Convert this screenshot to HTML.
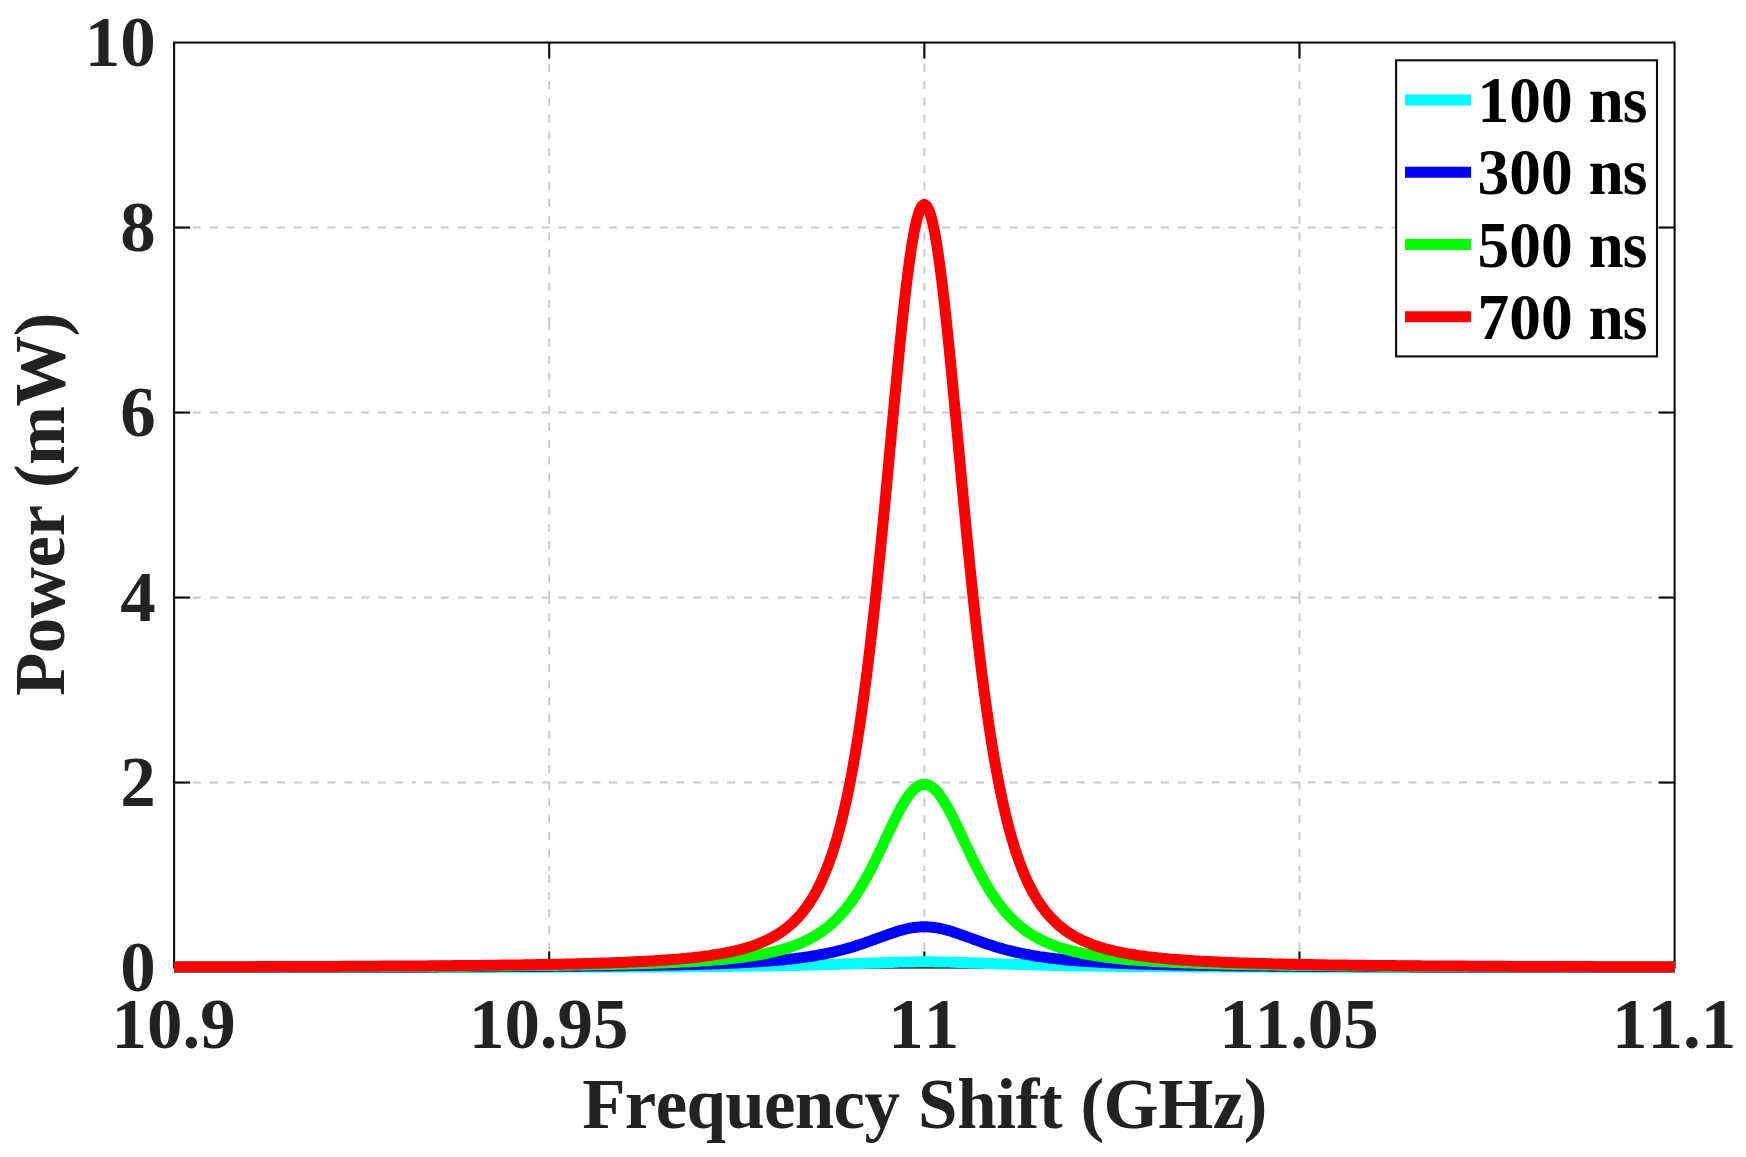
<!DOCTYPE html>
<html lang="en"><head><meta charset="utf-8"><title>Power vs Frequency Shift</title>
<style>
html,body{margin:0;padding:0;background:#fff;}
body{width:1746px;height:1157px;overflow:hidden;}
svg{display:block;}
text{font-family:"Liberation Serif",serif;font-weight:bold;font-kerning:none;}
.t{font-size:70.9px;fill:#222222;}
.lg{font-size:64.5px;fill:#000;}
</style></head><body>
<svg width="1746" height="1157" viewBox="0 0 1746 1157">
<rect width="1746" height="1157" fill="#fff"/>
<defs><clipPath id="c"><rect x="173.9" y="36.55" width="1501.1" height="937.0"/></clipPath></defs>

<g stroke="#c9c9c9" stroke-width="1.9" stroke-dasharray="8 8.83" fill="none">
<line x1="174.10" y1="782.55" x2="416.00" y2="782.55" stroke-dashoffset="-1.90"/>
<line x1="416.00" y1="782.55" x2="832.60" y2="782.55" stroke-dashoffset="-8.00"/>
<line x1="832.60" y1="782.55" x2="1249.30" y2="782.55" stroke-dashoffset="-8.60"/>
<line x1="1249.30" y1="782.55" x2="1674.60" y2="782.55" stroke-dashoffset="-7.70"/>
<line x1="174.10" y1="597.55" x2="416.00" y2="597.55" stroke-dashoffset="-1.90"/>
<line x1="416.00" y1="597.55" x2="832.60" y2="597.55" stroke-dashoffset="-8.00"/>
<line x1="832.60" y1="597.55" x2="1249.30" y2="597.55" stroke-dashoffset="-8.60"/>
<line x1="1249.30" y1="597.55" x2="1674.60" y2="597.55" stroke-dashoffset="-7.70"/>
<line x1="174.10" y1="412.55" x2="416.00" y2="412.55" stroke-dashoffset="-1.90"/>
<line x1="416.00" y1="412.55" x2="832.60" y2="412.55" stroke-dashoffset="-8.00"/>
<line x1="832.60" y1="412.55" x2="1249.30" y2="412.55" stroke-dashoffset="-8.60"/>
<line x1="1249.30" y1="412.55" x2="1674.60" y2="412.55" stroke-dashoffset="-7.70"/>
<line x1="174.10" y1="227.55" x2="416.00" y2="227.55" stroke-dashoffset="-1.90"/>
<line x1="416.00" y1="227.55" x2="832.60" y2="227.55" stroke-dashoffset="-8.00"/>
<line x1="832.60" y1="227.55" x2="1249.30" y2="227.55" stroke-dashoffset="-8.60"/>
<line x1="1249.30" y1="227.55" x2="1674.60" y2="227.55" stroke-dashoffset="-7.70"/>
<line x1="549.22" y1="42.55" x2="549.22" y2="324.80" stroke-dashoffset="-4.81"/>
<line x1="549.22" y1="329.70" x2="549.22" y2="599.40" stroke-dashoffset="-9.10"/>
<line x1="549.22" y1="604.00" x2="549.22" y2="870.90" stroke-dashoffset="-9.20"/>
<line x1="549.22" y1="870.90" x2="549.22" y2="967.55" stroke-dashoffset="-4.30"/>
<line x1="549.22" y1="324.8" x2="549.22" y2="329.7" stroke-dasharray="none"/>
<line x1="549.22" y1="599.4" x2="549.22" y2="604" stroke-dasharray="none"/>
<line x1="924.35" y1="42.55" x2="924.35" y2="324.80" stroke-dashoffset="-4.81"/>
<line x1="924.35" y1="329.70" x2="924.35" y2="599.40" stroke-dashoffset="-9.10"/>
<line x1="924.35" y1="604.00" x2="924.35" y2="870.90" stroke-dashoffset="-9.20"/>
<line x1="924.35" y1="870.90" x2="924.35" y2="967.55" stroke-dashoffset="-4.30"/>
<line x1="924.35" y1="324.8" x2="924.35" y2="329.7" stroke-dasharray="none"/>
<line x1="924.35" y1="599.4" x2="924.35" y2="604" stroke-dasharray="none"/>
<line x1="1299.48" y1="42.55" x2="1299.48" y2="324.80" stroke-dashoffset="-4.81"/>
<line x1="1299.48" y1="329.70" x2="1299.48" y2="599.40" stroke-dashoffset="-9.10"/>
<line x1="1299.48" y1="604.00" x2="1299.48" y2="870.90" stroke-dashoffset="-9.20"/>
<line x1="1299.48" y1="870.90" x2="1299.48" y2="967.55" stroke-dashoffset="-4.30"/>
<line x1="1299.48" y1="324.8" x2="1299.48" y2="329.7" stroke-dasharray="none"/>
<line x1="1299.48" y1="599.4" x2="1299.48" y2="604" stroke-dasharray="none"/>
</g>
<g stroke="#0c0c0c" stroke-width="2.1" fill="none">
<rect x="174.1" y="42.55" width="1500.5" height="925.0"/>
<line x1="549.22" y1="967.55" x2="549.22" y2="951.4499999999999"/>
<line x1="549.22" y1="42.55" x2="549.22" y2="58.65"/>
<line x1="924.35" y1="967.55" x2="924.35" y2="951.4499999999999"/>
<line x1="924.35" y1="42.55" x2="924.35" y2="58.65"/>
<line x1="1299.48" y1="967.55" x2="1299.48" y2="951.4499999999999"/>
<line x1="1299.48" y1="42.55" x2="1299.48" y2="58.65"/>
<line x1="174.1" y1="782.55" x2="190.2" y2="782.55"/>
<line x1="1674.6" y1="782.55" x2="1658.5" y2="782.55"/>
<line x1="174.1" y1="597.55" x2="190.2" y2="597.55"/>
<line x1="1674.6" y1="597.55" x2="1658.5" y2="597.55"/>
<line x1="174.1" y1="412.55" x2="190.2" y2="412.55"/>
<line x1="1674.6" y1="412.55" x2="1658.5" y2="412.55"/>
<line x1="174.1" y1="227.55" x2="190.2" y2="227.55"/>
<line x1="1674.6" y1="227.55" x2="1658.5" y2="227.55"/>
</g>
<g fill="none" stroke-width="11" stroke-linejoin="round" clip-path="url(#c)">
<polyline stroke="#00ffff" points="174.1,967.5 176.6,967.5 179.1,967.5 181.6,967.5 184.1,967.5 186.6,967.5 189.1,967.4 191.6,967.4 194.1,967.4 196.6,967.4 199.1,967.4 201.6,967.4 204.1,967.4 206.6,967.4 209.1,967.4 211.6,967.4 214.1,967.4 216.6,967.4 219.1,967.4 221.6,967.4 224.1,967.4 226.6,967.4 229.1,967.4 231.6,967.4 234.1,967.4 236.6,967.4 239.1,967.4 241.6,967.4 244.1,967.4 246.6,967.4 249.1,967.4 251.6,967.4 254.1,967.4 256.6,967.4 259.1,967.4 261.6,967.4 264.1,967.4 266.6,967.4 269.1,967.4 271.6,967.4 274.1,967.4 276.6,967.4 279.1,967.4 281.6,967.4 284.1,967.4 286.6,967.4 289.1,967.4 291.6,967.4 294.1,967.4 296.6,967.4 299.1,967.4 301.6,967.4 304.1,967.4 306.6,967.4 309.1,967.4 311.6,967.4 314.1,967.4 316.6,967.4 319.1,967.4 321.6,967.4 324.1,967.4 326.7,967.4 329.2,967.4 331.7,967.4 334.2,967.4 336.7,967.4 339.2,967.4 341.7,967.4 344.2,967.4 346.7,967.4 349.2,967.4 351.7,967.4 354.2,967.4 356.7,967.4 359.2,967.4 361.7,967.4 364.2,967.4 366.7,967.4 369.2,967.4 371.7,967.4 374.2,967.4 376.7,967.4 379.2,967.4 381.7,967.4 384.2,967.4 386.7,967.4 389.2,967.4 391.7,967.4 394.2,967.4 396.7,967.4 399.2,967.4 401.7,967.4 404.2,967.4 406.7,967.4 409.2,967.3 411.7,967.3 414.2,967.3 416.7,967.3 419.2,967.3 421.7,967.3 424.2,967.3 426.7,967.3 429.2,967.3 431.7,967.3 434.2,967.3 436.7,967.3 439.2,967.3 441.7,967.3 444.2,967.3 446.7,967.3 449.2,967.3 451.7,967.3 454.2,967.3 456.7,967.3 459.2,967.3 461.7,967.3 464.2,967.3 466.7,967.3 469.2,967.3 471.7,967.3 474.2,967.3 476.7,967.3 479.2,967.3 481.7,967.3 484.2,967.3 486.7,967.3 489.2,967.3 491.7,967.3 494.2,967.3 496.7,967.3 499.2,967.3 501.7,967.3 504.2,967.3 506.7,967.2 509.2,967.2 511.7,967.2 514.2,967.2 516.7,967.2 519.2,967.2 521.7,967.2 524.2,967.2 526.7,967.2 529.2,967.2 531.7,967.2 534.2,967.2 536.7,967.2 539.2,967.2 541.7,967.2 544.2,967.2 546.7,967.2 549.2,967.2 551.7,967.2 554.2,967.2 556.7,967.2 559.2,967.2 561.7,967.2 564.2,967.2 566.7,967.1 569.2,967.1 571.7,967.1 574.2,967.1 576.7,967.1 579.2,967.1 581.7,967.1 584.2,967.1 586.7,967.1 589.2,967.1 591.7,967.1 594.2,967.1 596.7,967.1 599.2,967.1 601.7,967.1 604.2,967.1 606.7,967.0 609.2,967.0 611.7,967.0 614.2,967.0 616.7,967.0 619.2,967.0 621.7,967.0 624.3,967.0 626.8,967.0 629.3,967.0 631.8,967.0 634.3,967.0 636.8,966.9 639.3,966.9 641.8,966.9 644.3,966.9 646.8,966.9 649.3,966.9 651.8,966.9 654.3,966.9 656.8,966.9 659.3,966.9 661.8,966.8 664.3,966.8 666.8,966.8 669.3,966.8 671.8,966.8 674.3,966.8 676.8,966.8 679.3,966.8 681.8,966.7 684.3,966.7 686.8,966.7 689.3,966.7 691.8,966.7 694.3,966.7 696.8,966.6 699.3,966.6 701.8,966.6 704.3,966.6 706.8,966.6 709.3,966.6 711.8,966.5 714.3,966.5 716.8,966.5 719.3,966.5 721.8,966.5 724.3,966.4 726.8,966.4 729.3,966.4 731.8,966.4 734.3,966.3 736.8,966.3 739.3,966.3 741.8,966.3 744.3,966.2 746.8,966.2 749.3,966.2 751.8,966.1 754.3,966.1 756.8,966.1 759.3,966.0 761.8,966.0 764.3,966.0 766.8,965.9 769.3,965.9 771.8,965.9 774.3,965.8 776.8,965.8 779.3,965.7 781.8,965.7 784.3,965.6 786.8,965.6 789.3,965.5 791.8,965.5 794.3,965.4 796.8,965.4 799.3,965.3 801.8,965.3 804.3,965.2 806.8,965.2 809.3,965.1 811.8,965.0 814.3,965.0 816.8,964.9 819.3,964.8 821.8,964.8 824.3,964.7 826.8,964.6 829.3,964.6 831.8,964.5 834.3,964.4 836.8,964.3 839.3,964.2 841.8,964.1 844.3,964.1 846.8,964.0 849.3,963.9 851.8,963.8 854.3,963.7 856.8,963.6 859.3,963.5 861.8,963.4 864.3,963.3 866.8,963.2 869.3,963.1 871.8,963.1 874.3,963.0 876.8,962.9 879.3,962.8 881.8,962.7 884.3,962.6 886.8,962.5 889.3,962.4 891.8,962.4 894.3,962.3 896.8,962.2 899.3,962.1 901.8,962.1 904.3,962.0 906.8,962.0 909.3,961.9 911.8,961.9 914.3,961.9 916.8,961.8 919.3,961.8 921.8,961.8 924.3,961.8 926.9,961.8 929.4,961.8 931.9,961.8 934.4,961.9 936.9,961.9 939.4,961.9 941.9,962.0 944.4,962.0 946.9,962.1 949.4,962.1 951.9,962.2 954.4,962.3 956.9,962.4 959.4,962.4 961.9,962.5 964.4,962.6 966.9,962.7 969.4,962.8 971.9,962.9 974.4,963.0 976.9,963.1 979.4,963.1 981.9,963.2 984.4,963.3 986.9,963.4 989.4,963.5 991.9,963.6 994.4,963.7 996.9,963.8 999.4,963.9 1001.9,964.0 1004.4,964.1 1006.9,964.1 1009.4,964.2 1011.9,964.3 1014.4,964.4 1016.9,964.5 1019.4,964.6 1021.9,964.6 1024.4,964.7 1026.9,964.8 1029.4,964.8 1031.9,964.9 1034.4,965.0 1036.9,965.0 1039.4,965.1 1041.9,965.2 1044.4,965.2 1046.9,965.3 1049.4,965.3 1051.9,965.4 1054.4,965.4 1056.9,965.5 1059.4,965.5 1061.9,965.6 1064.4,965.6 1066.9,965.7 1069.4,965.7 1071.9,965.8 1074.4,965.8 1076.9,965.9 1079.4,965.9 1081.9,965.9 1084.4,966.0 1086.9,966.0 1089.4,966.0 1091.9,966.1 1094.4,966.1 1096.9,966.1 1099.4,966.2 1101.9,966.2 1104.4,966.2 1106.9,966.3 1109.4,966.3 1111.9,966.3 1114.4,966.3 1116.9,966.4 1119.4,966.4 1121.9,966.4 1124.4,966.4 1126.9,966.5 1129.4,966.5 1131.9,966.5 1134.4,966.5 1136.9,966.5 1139.4,966.6 1141.9,966.6 1144.4,966.6 1146.9,966.6 1149.4,966.6 1151.9,966.6 1154.4,966.7 1156.9,966.7 1159.4,966.7 1161.9,966.7 1164.4,966.7 1166.9,966.7 1169.4,966.8 1171.9,966.8 1174.4,966.8 1176.9,966.8 1179.4,966.8 1181.9,966.8 1184.4,966.8 1186.9,966.8 1189.4,966.9 1191.9,966.9 1194.4,966.9 1196.9,966.9 1199.4,966.9 1201.9,966.9 1204.4,966.9 1206.9,966.9 1209.4,966.9 1211.9,966.9 1214.4,967.0 1216.9,967.0 1219.4,967.0 1221.9,967.0 1224.4,967.0 1227.0,967.0 1229.5,967.0 1232.0,967.0 1234.5,967.0 1237.0,967.0 1239.5,967.0 1242.0,967.0 1244.5,967.1 1247.0,967.1 1249.5,967.1 1252.0,967.1 1254.5,967.1 1257.0,967.1 1259.5,967.1 1262.0,967.1 1264.5,967.1 1267.0,967.1 1269.5,967.1 1272.0,967.1 1274.5,967.1 1277.0,967.1 1279.5,967.1 1282.0,967.1 1284.5,967.2 1287.0,967.2 1289.5,967.2 1292.0,967.2 1294.5,967.2 1297.0,967.2 1299.5,967.2 1302.0,967.2 1304.5,967.2 1307.0,967.2 1309.5,967.2 1312.0,967.2 1314.5,967.2 1317.0,967.2 1319.5,967.2 1322.0,967.2 1324.5,967.2 1327.0,967.2 1329.5,967.2 1332.0,967.2 1334.5,967.2 1337.0,967.2 1339.5,967.2 1342.0,967.2 1344.5,967.3 1347.0,967.3 1349.5,967.3 1352.0,967.3 1354.5,967.3 1357.0,967.3 1359.5,967.3 1362.0,967.3 1364.5,967.3 1367.0,967.3 1369.5,967.3 1372.0,967.3 1374.5,967.3 1377.0,967.3 1379.5,967.3 1382.0,967.3 1384.5,967.3 1387.0,967.3 1389.5,967.3 1392.0,967.3 1394.5,967.3 1397.0,967.3 1399.5,967.3 1402.0,967.3 1404.5,967.3 1407.0,967.3 1409.5,967.3 1412.0,967.3 1414.5,967.3 1417.0,967.3 1419.5,967.3 1422.0,967.3 1424.5,967.3 1427.0,967.3 1429.5,967.3 1432.0,967.3 1434.5,967.3 1437.0,967.3 1439.5,967.3 1442.0,967.4 1444.5,967.4 1447.0,967.4 1449.5,967.4 1452.0,967.4 1454.5,967.4 1457.0,967.4 1459.5,967.4 1462.0,967.4 1464.5,967.4 1467.0,967.4 1469.5,967.4 1472.0,967.4 1474.5,967.4 1477.0,967.4 1479.5,967.4 1482.0,967.4 1484.5,967.4 1487.0,967.4 1489.5,967.4 1492.0,967.4 1494.5,967.4 1497.0,967.4 1499.5,967.4 1502.0,967.4 1504.5,967.4 1507.0,967.4 1509.5,967.4 1512.0,967.4 1514.5,967.4 1517.0,967.4 1519.5,967.4 1522.0,967.4 1524.5,967.4 1527.1,967.4 1529.6,967.4 1532.1,967.4 1534.6,967.4 1537.1,967.4 1539.6,967.4 1542.1,967.4 1544.6,967.4 1547.1,967.4 1549.6,967.4 1552.1,967.4 1554.6,967.4 1557.1,967.4 1559.6,967.4 1562.1,967.4 1564.6,967.4 1567.1,967.4 1569.6,967.4 1572.1,967.4 1574.6,967.4 1577.1,967.4 1579.6,967.4 1582.1,967.4 1584.6,967.4 1587.1,967.4 1589.6,967.4 1592.1,967.4 1594.6,967.4 1597.1,967.4 1599.6,967.4 1602.1,967.4 1604.6,967.4 1607.1,967.4 1609.6,967.4 1612.1,967.4 1614.6,967.4 1617.1,967.4 1619.6,967.4 1622.1,967.4 1624.6,967.4 1627.1,967.4 1629.6,967.4 1632.1,967.4 1634.6,967.4 1637.1,967.4 1639.6,967.4 1642.1,967.4 1644.6,967.4 1647.1,967.4 1649.6,967.4 1652.1,967.4 1654.6,967.4 1657.1,967.4 1659.6,967.4 1662.1,967.5 1664.6,967.5 1667.1,967.5 1669.6,967.5 1672.1,967.5 1674.6,967.5"/>
<polyline stroke="#0000ff" points="174.1,967.3 176.6,967.3 179.1,967.3 181.6,967.2 184.1,967.2 186.6,967.2 189.1,967.2 191.6,967.2 194.1,967.2 196.6,967.2 199.1,967.2 201.6,967.2 204.1,967.2 206.6,967.2 209.1,967.2 211.6,967.2 214.1,967.2 216.6,967.2 219.1,967.2 221.6,967.2 224.1,967.2 226.6,967.2 229.1,967.2 231.6,967.2 234.1,967.2 236.6,967.2 239.1,967.2 241.6,967.2 244.1,967.2 246.6,967.2 249.1,967.2 251.6,967.2 254.1,967.2 256.6,967.2 259.1,967.2 261.6,967.2 264.1,967.2 266.6,967.2 269.1,967.2 271.6,967.2 274.1,967.2 276.6,967.2 279.1,967.2 281.6,967.1 284.1,967.1 286.6,967.1 289.1,967.1 291.6,967.1 294.1,967.1 296.6,967.1 299.1,967.1 301.6,967.1 304.1,967.1 306.6,967.1 309.1,967.1 311.6,967.1 314.1,967.1 316.6,967.1 319.1,967.1 321.6,967.1 324.1,967.1 326.7,967.1 329.2,967.1 331.7,967.1 334.2,967.1 336.7,967.1 339.2,967.1 341.7,967.1 344.2,967.1 346.7,967.1 349.2,967.0 351.7,967.0 354.2,967.0 356.7,967.0 359.2,967.0 361.7,967.0 364.2,967.0 366.7,967.0 369.2,967.0 371.7,967.0 374.2,967.0 376.7,967.0 379.2,967.0 381.7,967.0 384.2,967.0 386.7,967.0 389.2,967.0 391.7,967.0 394.2,967.0 396.7,967.0 399.2,966.9 401.7,966.9 404.2,966.9 406.7,966.9 409.2,966.9 411.7,966.9 414.2,966.9 416.7,966.9 419.2,966.9 421.7,966.9 424.2,966.9 426.7,966.9 429.2,966.9 431.7,966.9 434.2,966.9 436.7,966.9 439.2,966.8 441.7,966.8 444.2,966.8 446.7,966.8 449.2,966.8 451.7,966.8 454.2,966.8 456.7,966.8 459.2,966.8 461.7,966.8 464.2,966.8 466.7,966.8 469.2,966.7 471.7,966.7 474.2,966.7 476.7,966.7 479.2,966.7 481.7,966.7 484.2,966.7 486.7,966.7 489.2,966.7 491.7,966.7 494.2,966.7 496.7,966.6 499.2,966.6 501.7,966.6 504.2,966.6 506.7,966.6 509.2,966.6 511.7,966.6 514.2,966.6 516.7,966.6 519.2,966.5 521.7,966.5 524.2,966.5 526.7,966.5 529.2,966.5 531.7,966.5 534.2,966.5 536.7,966.4 539.2,966.4 541.7,966.4 544.2,966.4 546.7,966.4 549.2,966.4 551.7,966.4 554.2,966.3 556.7,966.3 559.2,966.3 561.7,966.3 564.2,966.3 566.7,966.3 569.2,966.2 571.7,966.2 574.2,966.2 576.7,966.2 579.2,966.2 581.7,966.1 584.2,966.1 586.7,966.1 589.2,966.1 591.7,966.1 594.2,966.0 596.7,966.0 599.2,966.0 601.7,966.0 604.2,965.9 606.7,965.9 609.2,965.9 611.7,965.9 614.2,965.8 616.7,965.8 619.2,965.8 621.7,965.7 624.3,965.7 626.8,965.7 629.3,965.6 631.8,965.6 634.3,965.6 636.8,965.5 639.3,965.5 641.8,965.5 644.3,965.4 646.8,965.4 649.3,965.4 651.8,965.3 654.3,965.3 656.8,965.2 659.3,965.2 661.8,965.2 664.3,965.1 666.8,965.1 669.3,965.0 671.8,965.0 674.3,964.9 676.8,964.9 679.3,964.8 681.8,964.7 684.3,964.7 686.8,964.6 689.3,964.6 691.8,964.5 694.3,964.4 696.8,964.4 699.3,964.3 701.8,964.2 704.3,964.2 706.8,964.1 709.3,964.0 711.8,963.9 714.3,963.8 716.8,963.8 719.3,963.7 721.8,963.6 724.3,963.5 726.8,963.4 729.3,963.3 731.8,963.2 734.3,963.0 736.8,962.9 739.3,962.8 741.8,962.7 744.3,962.6 746.8,962.4 749.3,962.3 751.8,962.1 754.3,962.0 756.8,961.8 759.3,961.7 761.8,961.5 764.3,961.3 766.8,961.2 769.3,961.0 771.8,960.8 774.3,960.6 776.8,960.4 779.3,960.1 781.8,959.9 784.3,959.7 786.8,959.4 789.3,959.1 791.8,958.9 794.3,958.6 796.8,958.3 799.3,958.0 801.8,957.6 804.3,957.3 806.8,956.9 809.3,956.6 811.8,956.2 814.3,955.8 816.8,955.4 819.3,954.9 821.8,954.4 824.3,954.0 826.8,953.5 829.3,952.9 831.8,952.4 834.3,951.8 836.8,951.2 839.3,950.6 841.8,950.0 844.3,949.3 846.8,948.6 849.3,947.9 851.8,947.2 854.3,946.4 856.8,945.6 859.3,944.8 861.8,944.0 864.3,943.1 866.8,942.2 869.3,941.3 871.8,940.4 874.3,939.5 876.8,938.6 879.3,937.7 881.8,936.8 884.3,935.9 886.8,935.0 889.3,934.1 891.8,933.2 894.3,932.4 896.8,931.6 899.3,930.8 901.8,930.1 904.3,929.5 906.8,928.9 909.3,928.3 911.8,927.9 914.3,927.5 916.8,927.2 919.3,927.0 921.8,926.8 924.3,926.8 926.9,926.8 929.4,927.0 931.9,927.2 934.4,927.5 936.9,927.9 939.4,928.3 941.9,928.9 944.4,929.5 946.9,930.1 949.4,930.8 951.9,931.6 954.4,932.4 956.9,933.2 959.4,934.1 961.9,935.0 964.4,935.9 966.9,936.8 969.4,937.7 971.9,938.6 974.4,939.5 976.9,940.4 979.4,941.3 981.9,942.2 984.4,943.1 986.9,944.0 989.4,944.8 991.9,945.6 994.4,946.4 996.9,947.2 999.4,947.9 1001.9,948.6 1004.4,949.3 1006.9,950.0 1009.4,950.6 1011.9,951.2 1014.4,951.8 1016.9,952.4 1019.4,952.9 1021.9,953.5 1024.4,954.0 1026.9,954.4 1029.4,954.9 1031.9,955.4 1034.4,955.8 1036.9,956.2 1039.4,956.6 1041.9,956.9 1044.4,957.3 1046.9,957.6 1049.4,958.0 1051.9,958.3 1054.4,958.6 1056.9,958.9 1059.4,959.1 1061.9,959.4 1064.4,959.7 1066.9,959.9 1069.4,960.1 1071.9,960.4 1074.4,960.6 1076.9,960.8 1079.4,961.0 1081.9,961.2 1084.4,961.3 1086.9,961.5 1089.4,961.7 1091.9,961.8 1094.4,962.0 1096.9,962.1 1099.4,962.3 1101.9,962.4 1104.4,962.6 1106.9,962.7 1109.4,962.8 1111.9,962.9 1114.4,963.0 1116.9,963.2 1119.4,963.3 1121.9,963.4 1124.4,963.5 1126.9,963.6 1129.4,963.7 1131.9,963.8 1134.4,963.8 1136.9,963.9 1139.4,964.0 1141.9,964.1 1144.4,964.2 1146.9,964.2 1149.4,964.3 1151.9,964.4 1154.4,964.4 1156.9,964.5 1159.4,964.6 1161.9,964.6 1164.4,964.7 1166.9,964.7 1169.4,964.8 1171.9,964.9 1174.4,964.9 1176.9,965.0 1179.4,965.0 1181.9,965.1 1184.4,965.1 1186.9,965.2 1189.4,965.2 1191.9,965.2 1194.4,965.3 1196.9,965.3 1199.4,965.4 1201.9,965.4 1204.4,965.4 1206.9,965.5 1209.4,965.5 1211.9,965.5 1214.4,965.6 1216.9,965.6 1219.4,965.6 1221.9,965.7 1224.4,965.7 1227.0,965.7 1229.5,965.8 1232.0,965.8 1234.5,965.8 1237.0,965.9 1239.5,965.9 1242.0,965.9 1244.5,965.9 1247.0,966.0 1249.5,966.0 1252.0,966.0 1254.5,966.0 1257.0,966.1 1259.5,966.1 1262.0,966.1 1264.5,966.1 1267.0,966.1 1269.5,966.2 1272.0,966.2 1274.5,966.2 1277.0,966.2 1279.5,966.2 1282.0,966.3 1284.5,966.3 1287.0,966.3 1289.5,966.3 1292.0,966.3 1294.5,966.3 1297.0,966.4 1299.5,966.4 1302.0,966.4 1304.5,966.4 1307.0,966.4 1309.5,966.4 1312.0,966.4 1314.5,966.5 1317.0,966.5 1319.5,966.5 1322.0,966.5 1324.5,966.5 1327.0,966.5 1329.5,966.5 1332.0,966.6 1334.5,966.6 1337.0,966.6 1339.5,966.6 1342.0,966.6 1344.5,966.6 1347.0,966.6 1349.5,966.6 1352.0,966.6 1354.5,966.7 1357.0,966.7 1359.5,966.7 1362.0,966.7 1364.5,966.7 1367.0,966.7 1369.5,966.7 1372.0,966.7 1374.5,966.7 1377.0,966.7 1379.5,966.7 1382.0,966.8 1384.5,966.8 1387.0,966.8 1389.5,966.8 1392.0,966.8 1394.5,966.8 1397.0,966.8 1399.5,966.8 1402.0,966.8 1404.5,966.8 1407.0,966.8 1409.5,966.8 1412.0,966.9 1414.5,966.9 1417.0,966.9 1419.5,966.9 1422.0,966.9 1424.5,966.9 1427.0,966.9 1429.5,966.9 1432.0,966.9 1434.5,966.9 1437.0,966.9 1439.5,966.9 1442.0,966.9 1444.5,966.9 1447.0,966.9 1449.5,966.9 1452.0,967.0 1454.5,967.0 1457.0,967.0 1459.5,967.0 1462.0,967.0 1464.5,967.0 1467.0,967.0 1469.5,967.0 1472.0,967.0 1474.5,967.0 1477.0,967.0 1479.5,967.0 1482.0,967.0 1484.5,967.0 1487.0,967.0 1489.5,967.0 1492.0,967.0 1494.5,967.0 1497.0,967.0 1499.5,967.0 1502.0,967.1 1504.5,967.1 1507.0,967.1 1509.5,967.1 1512.0,967.1 1514.5,967.1 1517.0,967.1 1519.5,967.1 1522.0,967.1 1524.5,967.1 1527.1,967.1 1529.6,967.1 1532.1,967.1 1534.6,967.1 1537.1,967.1 1539.6,967.1 1542.1,967.1 1544.6,967.1 1547.1,967.1 1549.6,967.1 1552.1,967.1 1554.6,967.1 1557.1,967.1 1559.6,967.1 1562.1,967.1 1564.6,967.1 1567.1,967.1 1569.6,967.2 1572.1,967.2 1574.6,967.2 1577.1,967.2 1579.6,967.2 1582.1,967.2 1584.6,967.2 1587.1,967.2 1589.6,967.2 1592.1,967.2 1594.6,967.2 1597.1,967.2 1599.6,967.2 1602.1,967.2 1604.6,967.2 1607.1,967.2 1609.6,967.2 1612.1,967.2 1614.6,967.2 1617.1,967.2 1619.6,967.2 1622.1,967.2 1624.6,967.2 1627.1,967.2 1629.6,967.2 1632.1,967.2 1634.6,967.2 1637.1,967.2 1639.6,967.2 1642.1,967.2 1644.6,967.2 1647.1,967.2 1649.6,967.2 1652.1,967.2 1654.6,967.2 1657.1,967.2 1659.6,967.2 1662.1,967.2 1664.6,967.2 1667.1,967.2 1669.6,967.3 1672.1,967.3 1674.6,967.3"/>
<polyline stroke="#00ff00" points="174.1,967.1 176.6,967.0 179.1,967.0 181.6,967.0 184.1,967.0 186.6,967.0 189.1,967.0 191.6,967.0 194.1,967.0 196.6,967.0 199.1,967.0 201.6,967.0 204.1,967.0 206.6,967.0 209.1,967.0 211.6,967.0 214.1,967.0 216.6,967.0 219.1,967.0 221.6,967.0 224.1,967.0 226.6,967.0 229.1,967.0 231.6,967.0 234.1,967.0 236.6,967.0 239.1,966.9 241.6,966.9 244.1,966.9 246.6,966.9 249.1,966.9 251.6,966.9 254.1,966.9 256.6,966.9 259.1,966.9 261.6,966.9 264.1,966.9 266.6,966.9 269.1,966.9 271.6,966.9 274.1,966.9 276.6,966.9 279.1,966.9 281.6,966.9 284.1,966.9 286.6,966.9 289.1,966.8 291.6,966.8 294.1,966.8 296.6,966.8 299.1,966.8 301.6,966.8 304.1,966.8 306.6,966.8 309.1,966.8 311.6,966.8 314.1,966.8 316.6,966.8 319.1,966.8 321.6,966.8 324.1,966.8 326.7,966.8 329.2,966.7 331.7,966.7 334.2,966.7 336.7,966.7 339.2,966.7 341.7,966.7 344.2,966.7 346.7,966.7 349.2,966.7 351.7,966.7 354.2,966.7 356.7,966.7 359.2,966.7 361.7,966.6 364.2,966.6 366.7,966.6 369.2,966.6 371.7,966.6 374.2,966.6 376.7,966.6 379.2,966.6 381.7,966.6 384.2,966.6 386.7,966.6 389.2,966.6 391.7,966.5 394.2,966.5 396.7,966.5 399.2,966.5 401.7,966.5 404.2,966.5 406.7,966.5 409.2,966.5 411.7,966.5 414.2,966.4 416.7,966.4 419.2,966.4 421.7,966.4 424.2,966.4 426.7,966.4 429.2,966.4 431.7,966.4 434.2,966.4 436.7,966.3 439.2,966.3 441.7,966.3 444.2,966.3 446.7,966.3 449.2,966.3 451.7,966.3 454.2,966.2 456.7,966.2 459.2,966.2 461.7,966.2 464.2,966.2 466.7,966.2 469.2,966.2 471.7,966.1 474.2,966.1 476.7,966.1 479.2,966.1 481.7,966.1 484.2,966.1 486.7,966.0 489.2,966.0 491.7,966.0 494.2,966.0 496.7,966.0 499.2,965.9 501.7,965.9 504.2,965.9 506.7,965.9 509.2,965.9 511.7,965.8 514.2,965.8 516.7,965.8 519.2,965.8 521.7,965.7 524.2,965.7 526.7,965.7 529.2,965.7 531.7,965.6 534.2,965.6 536.7,965.6 539.2,965.6 541.7,965.5 544.2,965.5 546.7,965.5 549.2,965.5 551.7,965.4 554.2,965.4 556.7,965.4 559.2,965.3 561.7,965.3 564.2,965.3 566.7,965.2 569.2,965.2 571.7,965.2 574.2,965.1 576.7,965.1 579.2,965.0 581.7,965.0 584.2,965.0 586.7,964.9 589.2,964.9 591.7,964.8 594.2,964.8 596.7,964.7 599.2,964.7 601.7,964.7 604.2,964.6 606.7,964.6 609.2,964.5 611.7,964.4 614.2,964.4 616.7,964.3 619.2,964.3 621.7,964.2 624.3,964.2 626.8,964.1 629.3,964.0 631.8,964.0 634.3,963.9 636.8,963.8 639.3,963.8 641.8,963.7 644.3,963.6 646.8,963.5 649.3,963.5 651.8,963.4 654.3,963.3 656.8,963.2 659.3,963.1 661.8,963.0 664.3,962.9 666.8,962.8 669.3,962.7 671.8,962.6 674.3,962.5 676.8,962.4 679.3,962.3 681.8,962.1 684.3,962.0 686.8,961.9 689.3,961.7 691.8,961.6 694.3,961.5 696.8,961.3 699.3,961.2 701.8,961.0 704.3,960.8 706.8,960.7 709.3,960.5 711.8,960.3 714.3,960.1 716.8,959.9 719.3,959.7 721.8,959.5 724.3,959.2 726.8,959.0 729.3,958.7 731.8,958.5 734.3,958.2 736.8,957.9 739.3,957.6 741.8,957.3 744.3,957.0 746.8,956.6 749.3,956.3 751.8,955.9 754.3,955.5 756.8,955.1 759.3,954.7 761.8,954.2 764.3,953.8 766.8,953.3 769.3,952.7 771.8,952.2 774.3,951.6 776.8,951.0 779.3,950.3 781.8,949.7 784.3,948.9 786.8,948.2 789.3,947.4 791.8,946.5 794.3,945.6 796.8,944.7 799.3,943.7 801.8,942.6 804.3,941.5 806.8,940.3 809.3,939.0 811.8,937.7 814.3,936.3 816.8,934.8 819.3,933.2 821.8,931.5 824.3,929.7 826.8,927.7 829.3,925.7 831.8,923.6 834.3,921.3 836.8,918.8 839.3,916.3 841.8,913.6 844.3,910.7 846.8,907.6 849.3,904.4 851.8,901.0 854.3,897.5 856.8,893.7 859.3,889.8 861.8,885.7 864.3,881.4 866.8,876.9 869.3,872.3 871.8,867.5 874.3,862.5 876.8,857.5 879.3,852.3 881.8,847.0 884.3,841.7 886.8,836.3 889.3,831.0 891.8,825.8 894.3,820.6 896.8,815.6 899.3,810.8 901.8,806.2 904.3,802.0 906.8,798.1 909.3,794.6 911.8,791.6 914.3,789.0 916.8,787.0 919.3,785.5 921.8,784.6 924.3,784.3 926.9,784.6 929.4,785.5 931.9,787.0 934.4,789.0 936.9,791.6 939.4,794.6 941.9,798.1 944.4,802.0 946.9,806.2 949.4,810.8 951.9,815.6 954.4,820.6 956.9,825.8 959.4,831.0 961.9,836.3 964.4,841.7 966.9,847.0 969.4,852.3 971.9,857.5 974.4,862.5 976.9,867.5 979.4,872.3 981.9,876.9 984.4,881.4 986.9,885.7 989.4,889.8 991.9,893.7 994.4,897.5 996.9,901.0 999.4,904.4 1001.9,907.6 1004.4,910.7 1006.9,913.6 1009.4,916.3 1011.9,918.8 1014.4,921.3 1016.9,923.6 1019.4,925.7 1021.9,927.7 1024.4,929.7 1026.9,931.5 1029.4,933.2 1031.9,934.8 1034.4,936.3 1036.9,937.7 1039.4,939.0 1041.9,940.3 1044.4,941.5 1046.9,942.6 1049.4,943.7 1051.9,944.7 1054.4,945.6 1056.9,946.5 1059.4,947.4 1061.9,948.2 1064.4,948.9 1066.9,949.7 1069.4,950.3 1071.9,951.0 1074.4,951.6 1076.9,952.2 1079.4,952.7 1081.9,953.3 1084.4,953.8 1086.9,954.2 1089.4,954.7 1091.9,955.1 1094.4,955.5 1096.9,955.9 1099.4,956.3 1101.9,956.6 1104.4,957.0 1106.9,957.3 1109.4,957.6 1111.9,957.9 1114.4,958.2 1116.9,958.5 1119.4,958.7 1121.9,959.0 1124.4,959.2 1126.9,959.5 1129.4,959.7 1131.9,959.9 1134.4,960.1 1136.9,960.3 1139.4,960.5 1141.9,960.7 1144.4,960.8 1146.9,961.0 1149.4,961.2 1151.9,961.3 1154.4,961.5 1156.9,961.6 1159.4,961.7 1161.9,961.9 1164.4,962.0 1166.9,962.1 1169.4,962.3 1171.9,962.4 1174.4,962.5 1176.9,962.6 1179.4,962.7 1181.9,962.8 1184.4,962.9 1186.9,963.0 1189.4,963.1 1191.9,963.2 1194.4,963.3 1196.9,963.4 1199.4,963.5 1201.9,963.5 1204.4,963.6 1206.9,963.7 1209.4,963.8 1211.9,963.8 1214.4,963.9 1216.9,964.0 1219.4,964.0 1221.9,964.1 1224.4,964.2 1227.0,964.2 1229.5,964.3 1232.0,964.3 1234.5,964.4 1237.0,964.4 1239.5,964.5 1242.0,964.6 1244.5,964.6 1247.0,964.7 1249.5,964.7 1252.0,964.7 1254.5,964.8 1257.0,964.8 1259.5,964.9 1262.0,964.9 1264.5,965.0 1267.0,965.0 1269.5,965.0 1272.0,965.1 1274.5,965.1 1277.0,965.2 1279.5,965.2 1282.0,965.2 1284.5,965.3 1287.0,965.3 1289.5,965.3 1292.0,965.4 1294.5,965.4 1297.0,965.4 1299.5,965.5 1302.0,965.5 1304.5,965.5 1307.0,965.5 1309.5,965.6 1312.0,965.6 1314.5,965.6 1317.0,965.6 1319.5,965.7 1322.0,965.7 1324.5,965.7 1327.0,965.7 1329.5,965.8 1332.0,965.8 1334.5,965.8 1337.0,965.8 1339.5,965.9 1342.0,965.9 1344.5,965.9 1347.0,965.9 1349.5,965.9 1352.0,966.0 1354.5,966.0 1357.0,966.0 1359.5,966.0 1362.0,966.0 1364.5,966.1 1367.0,966.1 1369.5,966.1 1372.0,966.1 1374.5,966.1 1377.0,966.1 1379.5,966.2 1382.0,966.2 1384.5,966.2 1387.0,966.2 1389.5,966.2 1392.0,966.2 1394.5,966.2 1397.0,966.3 1399.5,966.3 1402.0,966.3 1404.5,966.3 1407.0,966.3 1409.5,966.3 1412.0,966.3 1414.5,966.4 1417.0,966.4 1419.5,966.4 1422.0,966.4 1424.5,966.4 1427.0,966.4 1429.5,966.4 1432.0,966.4 1434.5,966.4 1437.0,966.5 1439.5,966.5 1442.0,966.5 1444.5,966.5 1447.0,966.5 1449.5,966.5 1452.0,966.5 1454.5,966.5 1457.0,966.5 1459.5,966.6 1462.0,966.6 1464.5,966.6 1467.0,966.6 1469.5,966.6 1472.0,966.6 1474.5,966.6 1477.0,966.6 1479.5,966.6 1482.0,966.6 1484.5,966.6 1487.0,966.6 1489.5,966.7 1492.0,966.7 1494.5,966.7 1497.0,966.7 1499.5,966.7 1502.0,966.7 1504.5,966.7 1507.0,966.7 1509.5,966.7 1512.0,966.7 1514.5,966.7 1517.0,966.7 1519.5,966.7 1522.0,966.8 1524.5,966.8 1527.1,966.8 1529.6,966.8 1532.1,966.8 1534.6,966.8 1537.1,966.8 1539.6,966.8 1542.1,966.8 1544.6,966.8 1547.1,966.8 1549.6,966.8 1552.1,966.8 1554.6,966.8 1557.1,966.8 1559.6,966.8 1562.1,966.9 1564.6,966.9 1567.1,966.9 1569.6,966.9 1572.1,966.9 1574.6,966.9 1577.1,966.9 1579.6,966.9 1582.1,966.9 1584.6,966.9 1587.1,966.9 1589.6,966.9 1592.1,966.9 1594.6,966.9 1597.1,966.9 1599.6,966.9 1602.1,966.9 1604.6,966.9 1607.1,966.9 1609.6,966.9 1612.1,967.0 1614.6,967.0 1617.1,967.0 1619.6,967.0 1622.1,967.0 1624.6,967.0 1627.1,967.0 1629.6,967.0 1632.1,967.0 1634.6,967.0 1637.1,967.0 1639.6,967.0 1642.1,967.0 1644.6,967.0 1647.1,967.0 1649.6,967.0 1652.1,967.0 1654.6,967.0 1657.1,967.0 1659.6,967.0 1662.1,967.0 1664.6,967.0 1667.1,967.0 1669.6,967.0 1672.1,967.0 1674.6,967.1"/>
<polyline stroke="#ff0000" points="174.1,966.8 176.6,966.8 179.1,966.8 181.6,966.8 184.1,966.8 186.6,966.8 189.1,966.8 191.6,966.8 194.1,966.8 196.6,966.8 199.1,966.8 201.6,966.8 204.1,966.8 206.6,966.8 209.1,966.8 211.6,966.8 214.1,966.8 216.6,966.7 219.1,966.7 221.6,966.7 224.1,966.7 226.6,966.7 229.1,966.7 231.6,966.7 234.1,966.7 236.6,966.7 239.1,966.7 241.6,966.7 244.1,966.7 246.6,966.7 249.1,966.7 251.6,966.7 254.1,966.7 256.6,966.6 259.1,966.6 261.6,966.6 264.1,966.6 266.6,966.6 269.1,966.6 271.6,966.6 274.1,966.6 276.6,966.6 279.1,966.6 281.6,966.6 284.1,966.6 286.6,966.6 289.1,966.5 291.6,966.5 294.1,966.5 296.6,966.5 299.1,966.5 301.6,966.5 304.1,966.5 306.6,966.5 309.1,966.5 311.6,966.5 314.1,966.5 316.6,966.4 319.1,966.4 321.6,966.4 324.1,966.4 326.7,966.4 329.2,966.4 331.7,966.4 334.2,966.4 336.7,966.4 339.2,966.4 341.7,966.3 344.2,966.3 346.7,966.3 349.2,966.3 351.7,966.3 354.2,966.3 356.7,966.3 359.2,966.3 361.7,966.3 364.2,966.2 366.7,966.2 369.2,966.2 371.7,966.2 374.2,966.2 376.7,966.2 379.2,966.2 381.7,966.1 384.2,966.1 386.7,966.1 389.2,966.1 391.7,966.1 394.2,966.1 396.7,966.1 399.2,966.0 401.7,966.0 404.2,966.0 406.7,966.0 409.2,966.0 411.7,966.0 414.2,965.9 416.7,965.9 419.2,965.9 421.7,965.9 424.2,965.9 426.7,965.9 429.2,965.8 431.7,965.8 434.2,965.8 436.7,965.8 439.2,965.8 441.7,965.7 444.2,965.7 446.7,965.7 449.2,965.7 451.7,965.7 454.2,965.6 456.7,965.6 459.2,965.6 461.7,965.6 464.2,965.5 466.7,965.5 469.2,965.5 471.7,965.5 474.2,965.5 476.7,965.4 479.2,965.4 481.7,965.4 484.2,965.3 486.7,965.3 489.2,965.3 491.7,965.3 494.2,965.2 496.7,965.2 499.2,965.2 501.7,965.1 504.2,965.1 506.7,965.1 509.2,965.0 511.7,965.0 514.2,965.0 516.7,964.9 519.2,964.9 521.7,964.9 524.2,964.8 526.7,964.8 529.2,964.8 531.7,964.7 534.2,964.7 536.7,964.6 539.2,964.6 541.7,964.5 544.2,964.5 546.7,964.5 549.2,964.4 551.7,964.4 554.2,964.3 556.7,964.3 559.2,964.2 561.7,964.2 564.2,964.1 566.7,964.0 569.2,964.0 571.7,963.9 574.2,963.9 576.7,963.8 579.2,963.8 581.7,963.7 584.2,963.6 586.7,963.6 589.2,963.5 591.7,963.4 594.2,963.3 596.7,963.3 599.2,963.2 601.7,963.1 604.2,963.0 606.7,962.9 609.2,962.9 611.7,962.8 614.2,962.7 616.7,962.6 619.2,962.5 621.7,962.4 624.3,962.3 626.8,962.2 629.3,962.1 631.8,962.0 634.3,961.8 636.8,961.7 639.3,961.6 641.8,961.5 644.3,961.4 646.8,961.2 649.3,961.1 651.8,960.9 654.3,960.8 656.8,960.6 659.3,960.5 661.8,960.3 664.3,960.1 666.8,960.0 669.3,959.8 671.8,959.6 674.3,959.4 676.8,959.2 679.3,959.0 681.8,958.7 684.3,958.5 686.8,958.3 689.3,958.0 691.8,957.8 694.3,957.5 696.8,957.2 699.3,956.9 701.8,956.6 704.3,956.3 706.8,955.9 709.3,955.6 711.8,955.2 714.3,954.8 716.8,954.4 719.3,954.0 721.8,953.6 724.3,953.1 726.8,952.6 729.3,952.1 731.8,951.6 734.3,951.0 736.8,950.4 739.3,949.8 741.8,949.2 744.3,948.5 746.8,947.7 749.3,947.0 751.8,946.2 754.3,945.3 756.8,944.4 759.3,943.4 761.8,942.4 764.3,941.3 766.8,940.2 769.3,938.9 771.8,937.6 774.3,936.3 776.8,934.8 779.3,933.2 781.8,931.5 784.3,929.7 786.8,927.8 789.3,925.8 791.8,923.6 794.3,921.2 796.8,918.7 799.3,916.0 801.8,913.1 804.3,910.0 806.8,906.6 809.3,903.0 811.8,899.1 814.3,895.0 816.8,890.4 819.3,885.6 821.8,880.3 824.3,874.6 826.8,868.5 829.3,861.9 831.8,854.8 834.3,847.1 836.8,838.8 839.3,829.8 841.8,820.1 844.3,809.6 846.8,798.4 849.3,786.3 851.8,773.3 854.3,759.3 856.8,744.4 859.3,728.4 861.8,711.3 864.3,693.1 866.8,673.8 869.3,653.4 871.8,632.0 874.3,609.4 876.8,585.8 879.3,561.3 881.8,536.0 884.3,510.0 886.8,483.4 889.3,456.6 891.8,429.6 894.3,402.8 896.8,376.4 899.3,350.8 901.8,326.2 904.3,303.0 906.8,281.6 909.3,262.2 911.8,245.3 914.3,230.9 916.8,219.5 919.3,211.2 921.8,206.1 924.3,204.4 926.9,206.1 929.4,211.2 931.9,219.5 934.4,230.9 936.9,245.3 939.4,262.2 941.9,281.6 944.4,303.0 946.9,326.2 949.4,350.8 951.9,376.4 954.4,402.8 956.9,429.6 959.4,456.6 961.9,483.4 964.4,510.0 966.9,536.0 969.4,561.3 971.9,585.8 974.4,609.4 976.9,632.0 979.4,653.4 981.9,673.8 984.4,693.1 986.9,711.3 989.4,728.4 991.9,744.4 994.4,759.3 996.9,773.3 999.4,786.3 1001.9,798.4 1004.4,809.6 1006.9,820.1 1009.4,829.8 1011.9,838.8 1014.4,847.1 1016.9,854.8 1019.4,861.9 1021.9,868.5 1024.4,874.6 1026.9,880.3 1029.4,885.6 1031.9,890.4 1034.4,895.0 1036.9,899.1 1039.4,903.0 1041.9,906.6 1044.4,910.0 1046.9,913.1 1049.4,916.0 1051.9,918.7 1054.4,921.2 1056.9,923.6 1059.4,925.8 1061.9,927.8 1064.4,929.7 1066.9,931.5 1069.4,933.2 1071.9,934.8 1074.4,936.3 1076.9,937.6 1079.4,938.9 1081.9,940.2 1084.4,941.3 1086.9,942.4 1089.4,943.4 1091.9,944.4 1094.4,945.3 1096.9,946.2 1099.4,947.0 1101.9,947.7 1104.4,948.5 1106.9,949.2 1109.4,949.8 1111.9,950.4 1114.4,951.0 1116.9,951.6 1119.4,952.1 1121.9,952.6 1124.4,953.1 1126.9,953.6 1129.4,954.0 1131.9,954.4 1134.4,954.8 1136.9,955.2 1139.4,955.6 1141.9,955.9 1144.4,956.3 1146.9,956.6 1149.4,956.9 1151.9,957.2 1154.4,957.5 1156.9,957.8 1159.4,958.0 1161.9,958.3 1164.4,958.5 1166.9,958.7 1169.4,959.0 1171.9,959.2 1174.4,959.4 1176.9,959.6 1179.4,959.8 1181.9,960.0 1184.4,960.1 1186.9,960.3 1189.4,960.5 1191.9,960.6 1194.4,960.8 1196.9,960.9 1199.4,961.1 1201.9,961.2 1204.4,961.4 1206.9,961.5 1209.4,961.6 1211.9,961.7 1214.4,961.8 1216.9,962.0 1219.4,962.1 1221.9,962.2 1224.4,962.3 1227.0,962.4 1229.5,962.5 1232.0,962.6 1234.5,962.7 1237.0,962.8 1239.5,962.9 1242.0,962.9 1244.5,963.0 1247.0,963.1 1249.5,963.2 1252.0,963.3 1254.5,963.3 1257.0,963.4 1259.5,963.5 1262.0,963.6 1264.5,963.6 1267.0,963.7 1269.5,963.8 1272.0,963.8 1274.5,963.9 1277.0,963.9 1279.5,964.0 1282.0,964.0 1284.5,964.1 1287.0,964.2 1289.5,964.2 1292.0,964.3 1294.5,964.3 1297.0,964.4 1299.5,964.4 1302.0,964.5 1304.5,964.5 1307.0,964.5 1309.5,964.6 1312.0,964.6 1314.5,964.7 1317.0,964.7 1319.5,964.8 1322.0,964.8 1324.5,964.8 1327.0,964.9 1329.5,964.9 1332.0,964.9 1334.5,965.0 1337.0,965.0 1339.5,965.0 1342.0,965.1 1344.5,965.1 1347.0,965.1 1349.5,965.2 1352.0,965.2 1354.5,965.2 1357.0,965.3 1359.5,965.3 1362.0,965.3 1364.5,965.3 1367.0,965.4 1369.5,965.4 1372.0,965.4 1374.5,965.5 1377.0,965.5 1379.5,965.5 1382.0,965.5 1384.5,965.5 1387.0,965.6 1389.5,965.6 1392.0,965.6 1394.5,965.6 1397.0,965.7 1399.5,965.7 1402.0,965.7 1404.5,965.7 1407.0,965.7 1409.5,965.8 1412.0,965.8 1414.5,965.8 1417.0,965.8 1419.5,965.8 1422.0,965.9 1424.5,965.9 1427.0,965.9 1429.5,965.9 1432.0,965.9 1434.5,965.9 1437.0,966.0 1439.5,966.0 1442.0,966.0 1444.5,966.0 1447.0,966.0 1449.5,966.0 1452.0,966.1 1454.5,966.1 1457.0,966.1 1459.5,966.1 1462.0,966.1 1464.5,966.1 1467.0,966.1 1469.5,966.2 1472.0,966.2 1474.5,966.2 1477.0,966.2 1479.5,966.2 1482.0,966.2 1484.5,966.2 1487.0,966.3 1489.5,966.3 1492.0,966.3 1494.5,966.3 1497.0,966.3 1499.5,966.3 1502.0,966.3 1504.5,966.3 1507.0,966.3 1509.5,966.4 1512.0,966.4 1514.5,966.4 1517.0,966.4 1519.5,966.4 1522.0,966.4 1524.5,966.4 1527.1,966.4 1529.6,966.4 1532.1,966.4 1534.6,966.5 1537.1,966.5 1539.6,966.5 1542.1,966.5 1544.6,966.5 1547.1,966.5 1549.6,966.5 1552.1,966.5 1554.6,966.5 1557.1,966.5 1559.6,966.5 1562.1,966.6 1564.6,966.6 1567.1,966.6 1569.6,966.6 1572.1,966.6 1574.6,966.6 1577.1,966.6 1579.6,966.6 1582.1,966.6 1584.6,966.6 1587.1,966.6 1589.6,966.6 1592.1,966.6 1594.6,966.7 1597.1,966.7 1599.6,966.7 1602.1,966.7 1604.6,966.7 1607.1,966.7 1609.6,966.7 1612.1,966.7 1614.6,966.7 1617.1,966.7 1619.6,966.7 1622.1,966.7 1624.6,966.7 1627.1,966.7 1629.6,966.7 1632.1,966.7 1634.6,966.8 1637.1,966.8 1639.6,966.8 1642.1,966.8 1644.6,966.8 1647.1,966.8 1649.6,966.8 1652.1,966.8 1654.6,966.8 1657.1,966.8 1659.6,966.8 1662.1,966.8 1664.6,966.8 1667.1,966.8 1669.6,966.8 1672.1,966.8 1674.6,966.8"/>
</g>
<text class="t" x="173.6" y="1048.2" text-anchor="middle">10.9</text>
<text class="t" x="548.7" y="1048.2" text-anchor="middle">10.95</text>
<text class="t" x="923.8" y="1048.2" text-anchor="middle">11</text>
<text class="t" x="1299.0" y="1048.2" text-anchor="middle">11.05</text>
<text class="t" x="1674.1" y="1048.2" text-anchor="middle">11.1</text>
<text class="t" x="155.6" y="991.3" text-anchor="end">0</text>
<text class="t" x="155.6" y="806.3" text-anchor="end">2</text>
<text class="t" x="155.6" y="621.3" text-anchor="end">4</text>
<text class="t" x="155.6" y="436.3" text-anchor="end">6</text>
<text class="t" x="155.6" y="251.3" text-anchor="end">8</text>
<text class="t" x="155.6" y="66.3" text-anchor="end">10</text>
<text class="t" x="582.2" y="1128.3"><tspan letter-spacing="-0.65">Frequency</tspan><tspan dx="1.4" letter-spacing="-0.3"> Shift</tspan><tspan dx="0.9" letter-spacing="-0.5"> (GHz)</tspan></text>
<text class="t" transform="translate(63.9,696) rotate(-90)" letter-spacing="-0.5">Power<tspan dx="0.5" letter-spacing="-0.6"> (mW)</tspan></text>
<rect x="1396.1" y="60.3" width="260.9000000000001" height="296.09999999999997" fill="#fff" stroke="#0c0c0c" stroke-width="2.1"/>
<line x1="1405" y1="100.1" x2="1471.1" y2="100.1" stroke="#00ffff" stroke-width="11"/>
<text class="lg" transform="translate(1477.5,122.1) scale(0.983,1.02)">100 <tspan letter-spacing="-0.9">ns</tspan></text>
<line x1="1405" y1="172.3" x2="1471.1" y2="172.3" stroke="#0000ff" stroke-width="11"/>
<text class="lg" transform="translate(1477.5,194.3) scale(0.983,1.02)">300 <tspan letter-spacing="-0.9">ns</tspan></text>
<line x1="1405" y1="244.5" x2="1471.1" y2="244.5" stroke="#00ff00" stroke-width="11"/>
<text class="lg" transform="translate(1477.5,266.5) scale(0.983,1.02)">500 <tspan letter-spacing="-0.9">ns</tspan></text>
<line x1="1405" y1="316.7" x2="1471.1" y2="316.7" stroke="#ff0000" stroke-width="11"/>
<text class="lg" transform="translate(1477.5,338.7) scale(0.983,1.02)">700 <tspan letter-spacing="-0.9">ns</tspan></text>
</svg>
</body></html>
